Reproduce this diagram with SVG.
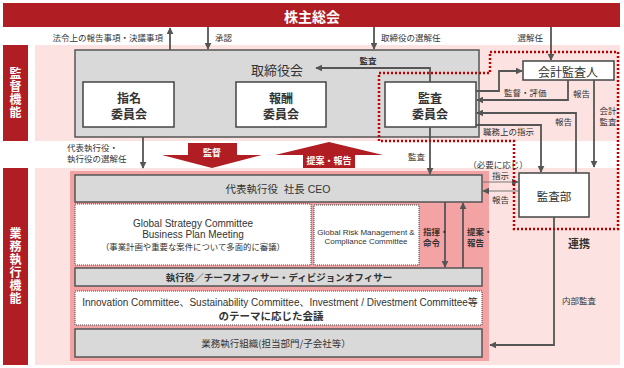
<svg xmlns="http://www.w3.org/2000/svg" width="624" height="368" viewBox="0 0 624 368">
<defs>
<style>
text{font-family:"Liberation Sans","Noto Sans CJK JP",sans-serif;dominant-baseline:central;fill:#333}
.jp{font-family:"Noto Sans CJK JP",sans-serif}
.lbl{font-family:"Noto Sans CJK JP",sans-serif;font-size:8.5px;fill:#333}
.wht{fill:#fff;font-weight:bold;font-family:"Noto Sans CJK JP",sans-serif}
.vert{writing-mode:vertical-rl;letter-spacing:1px}
.gray{fill:#d9d9d9;stroke:#555;stroke-width:1.5}
.white{fill:#fff;stroke:#444;stroke-width:1.5}
.dotbox{fill:#fff;stroke:#444;stroke-width:1;stroke-dasharray:1 1}
.conn{fill:none;stroke:#555;stroke-width:1.8;marker-end:url(#ah)}
.conn2{fill:none;stroke:#777;stroke-width:1.2;marker-end:url(#ah)}
.reddot{fill:none;stroke:#c00000;stroke-width:2.5;stroke-dasharray:2 2}
.bigarrow{fill:#b01e24}
</style>
<marker id="ah" viewBox="0 0 10 10" refX="9" refY="5" markerWidth="7" markerHeight="7" markerUnits="userSpaceOnUse" orient="auto">
<path d="M0,0 L10,5 L0,10 z" fill="#555"/>
</marker>
</defs>

<!-- backgrounds -->
<rect x="35" y="45" width="585" height="96" fill="#fce3e1"/>
<rect x="35" y="168" width="585" height="197" fill="#fce3e1"/>
<rect x="70" y="171" width="419" height="190" fill="#f4a3a5"/>

<g id="shareholders">
<rect x="3" y="3" width="617" height="24" fill="#b01e24"/>
<text x="312" y="16" text-anchor="middle" class="wht" font-size="14">株主総会</text>
</g>

<g id="supervision-label">
<rect x="3" y="45" width="25" height="96" fill="#b01e24"/>
<text x="15.5" y="93" text-anchor="middle" class="wht vert" font-size="12">監督機能</text>
</g>

<g id="execution-label">
<rect x="3" y="168" width="25" height="197" fill="#b01e24"/>
<text x="15.5" y="266" text-anchor="middle" class="wht vert" font-size="12">業務執行機能</text>
</g>

<g id="board">
<rect x="75" y="50" width="404" height="87" class="gray"/>
<text x="277" y="69" text-anchor="middle" class="jp" font-size="13">取締役会</text>
</g>

<g id="nomination">
<rect x="83" y="82" width="91" height="45" class="white"/>
<text class="jp" font-size="12" font-weight="bold" text-anchor="middle" fill="#222"><tspan x="129" y="97">指名</tspan><tspan x="129" y="113">委員会</tspan></text>
</g>

<g id="compensation">
<rect x="236" y="82" width="90" height="45" class="white"/>
<text class="jp" font-size="12" font-weight="bold" text-anchor="middle" fill="#222"><tspan x="281" y="97">報酬</tspan><tspan x="281" y="113">委員会</tspan></text>
</g>

<g id="audit-committee">
<rect x="385" y="82" width="91" height="45" class="white"/>
<text class="jp" font-size="12" font-weight="bold" text-anchor="middle" fill="#222"><tspan x="430" y="97">監査</tspan><tspan x="430" y="113">委員会</tspan></text>
</g>

<g id="accounting-auditor">
<rect x="523" y="61" width="91" height="19" class="white"/>
<text x="568" y="71" text-anchor="middle" class="jp" font-size="12">会計監査人</text>
</g>

<g id="audit-dept">
<rect x="519" y="173" width="70" height="44" class="white"/>
<text x="554" y="196" text-anchor="middle" class="jp" font-size="11.5">監査部</text>
</g>

<g id="ceo">
<rect x="75" y="175" width="407" height="27" class="gray"/>
<text x="278" y="189" text-anchor="middle" font-size="10.5" xml:space="preserve">代表執行役  社長 CEO</text>
</g>

<g id="global-strategy">
<rect x="75" y="204" width="236" height="61" class="dotbox"/>
<text text-anchor="middle" font-size="10" fill="#222"><tspan x="193" y="223">Global Strategy Committee</tspan><tspan x="193" y="234">Business Plan Meeting</tspan></text>
<text x="193" y="246" text-anchor="middle" class="jp" font-size="8.4">（事業計画や重要な案件について多面的に審議）</text>
</g>

<g id="global-risk">
<rect x="314" y="205" width="105" height="60" class="dotbox"/>
<text text-anchor="middle" font-size="8" fill="#666"><tspan x="366" y="232">Global Risk Management &amp;</tspan><tspan x="366" y="241">Compliance Committee</tspan></text>
</g>

<g id="officers">
<rect x="75" y="268" width="407" height="18" class="gray"/>
<text x="279" y="277" text-anchor="middle" class="jp" font-size="9.5" font-weight="bold" fill="#222">執行役／チーフオフィサー・ディビジョンオフィサー</text>
</g>

<g id="theme-meetings">
<rect x="75" y="291" width="407" height="34" class="dotbox"/>
<text text-anchor="middle" fill="#111"><tspan x="280" y="302" font-size="10">Innovation Committee、Sustainability Committee、Investment / Divestment Committee等</tspan><tspan x="271" y="315" font-size="10.5" font-weight="bold" font-family="Noto Sans CJK JP, sans-serif">のテーマに応じた会議</tspan></text>
</g>

<g id="business-org">
<rect x="75" y="329" width="407" height="28" class="gray"/>
<text x="276" y="343" text-anchor="middle" class="jp" font-size="9.5">業務執行組織(担当部門/子会社等）</text>
</g>

<g id="connectors">
<path class="conn" d="M170,50 V28"/>
<path class="conn" d="M208,27 V49"/>
<path class="conn" d="M374,27 V49"/>
<path class="conn" d="M551,27 V60"/>
<path class="conn" d="M430,82 V68 H316"/>
<path class="conn" d="M476,91 H499 V71 H522"/>
<path class="conn" d="M568,80 V100 H477"/>
<path class="conn" d="M576,173 V113 H477"/>
<path class="conn" d="M476,125 H541 V172"/>
<path class="conn" d="M594,80 V167"/>
<path class="conn" d="M430,127 V174"/>
<path class="conn" d="M143,137 V168"/>
<path class="conn2" d="M482,182 H518"/>
<path class="conn2" d="M519,191 H483"/>
<path class="conn" d="M445,202 V267"/>
<path class="conn" d="M463,268 V203"/>
<path class="conn" d="M554,217 V345 H490"/>
<polygon class="bigarrow" points="188,143 237,143 237,155 262,155 212,168 162,155 188,155"/>
<polygon class="bigarrow" points="329,142 383,155 355,155 355,168 303,168 303,155 275,155"/>
<path class="reddot" d="M379,73 H490 V52 H618 V229 H514 V141 H379 Z"/>
</g>

<g id="labels">
<text x="163" y="37" text-anchor="end" class="lbl">法令上の報告事項・決議事項</text>
<text x="215" y="37" class="lbl">承認</text>
<text x="381" y="37" class="lbl">取締役の選解任</text>
<text x="543" y="37" text-anchor="end" class="lbl">選解任</text>
<text x="368" y="60" text-anchor="middle" class="lbl" font-weight="bold">監査</text>
<text x="504" y="92" class="lbl">監督・評価</text>
<text x="573" y="93" class="lbl">報告</text>
<text x="555" y="121" class="lbl">報告</text>
<text x="483" y="131" class="lbl">職務上の指示</text>
<text text-anchor="middle" class="lbl"><tspan x="608" y="110">会計</tspan><tspan x="608" y="121">監査</tspan></text>
<text class="lbl" font-size="8.2"><tspan x="67" y="147">代表執行役・</tspan><tspan x="67" y="158">執行役の選解任</tspan></text>
<text x="212" y="152" text-anchor="middle" class="wht" font-size="9">監督</text>
<text x="329" y="160" text-anchor="middle" class="wht" font-size="9">提案・報告</text>
<text x="425" y="156" text-anchor="end" class="lbl">監査</text>
<text x="498" y="164" text-anchor="middle" class="lbl" font-size="7">（必要に応じ）</text>
<text x="492" y="175" class="lbl">指示</text>
<text x="492" y="199" class="lbl">報告</text>
<text class="lbl" font-weight="bold" font-size="8.2"><tspan x="423" y="231">指揮・</tspan><tspan x="423" y="242">命令</tspan></text>
<text class="lbl" font-weight="bold" font-size="8.2"><tspan x="467" y="231">提案・</tspan><tspan x="467" y="242">報告</tspan></text>
<text x="579" y="243" text-anchor="middle" class="jp" font-size="11" font-weight="bold" fill="#c00000">連携</text>
<text x="562" y="300" class="lbl">内部監査</text>
</g>
</svg>
